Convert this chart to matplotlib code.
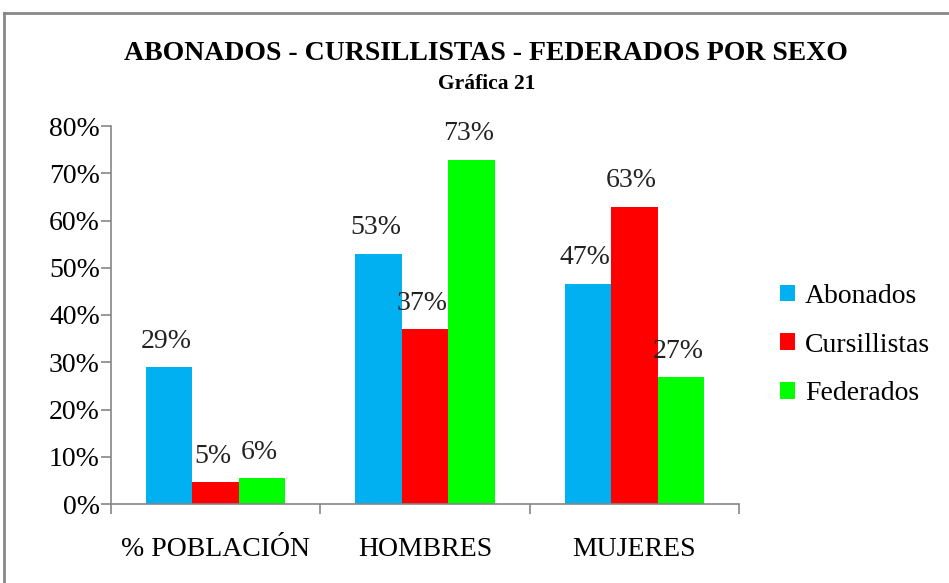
import numpy as np
import matplotlib.pyplot as plt
from matplotlib.lines import Line2D

# Data (percent)
categories = ['% POBLACIÓN', 'HOMBRES', 'MUJERES']
series_names = ['Abonados', 'Cursillistas', 'Federados']
abonados = [29.0, 53.0, 46.6]
cursillistas = [4.6, 37.0, 62.9]
federados = [5.5, 72.9, 26.8]
y_ticks = [0, 10, 20, 30, 40, 50, 60, 70, 80]

colors = ['#00B0F0', '#FF0000', '#00FF00']
font = 'Liberation Serif'

plt.rcParams['font.family'] = [font, 'DejaVu Serif']

fig = plt.figure(figsize=(9.49, 5.83), dpi=100)
ax = fig.add_axes([111 / 949, 1 - 504 / 583, 628 / 949, 378 / 583])

x = np.arange(len(categories))
width = 1 / 4.5
all_series = [abonados, cursillistas, federados]
for i, (vals, name, col) in enumerate(zip(all_series, series_names, colors)):
    pos = x + (i - 1) * width
    heights = np.array(vals) / 100
    ax.bar(pos, heights, width, color=col, label=name, linewidth=0)
    for px, v in zip(pos, vals):
        ax.annotate(f'{round(v)}%', (px, v / 100), xytext=(-2, 14),
                    textcoords='offset points', ha='center', va='baseline',
                    fontsize=20, color='#222222')

ax.set_xlim(-0.5, 2.5)
ax.set_ylim(0, 0.8)
ax.set_yticks([t / 100 for t in y_ticks])
ax.set_yticklabels([f'{t}%' for t in y_ticks], fontsize=20)
ax.set_xticks([-0.5, 0.5, 1.5, 2.5])
ax.set_xticklabels([])
ax.set_xticks(x, minor=True)
ax.set_xticklabels(categories, minor=True, fontsize=20)
ax.tick_params(axis='x', which='minor', length=0, pad=24)
ax.tick_params(axis='both', which='major', length=7, width=1.2, color='#868686', direction='out')
ax.tick_params(axis='y', pad=1)

for s in ['top', 'right']:
    ax.spines[s].set_visible(False)
for s in ['left', 'bottom']:
    ax.spines[s].set_color('#868686')
    ax.spines[s].set_linewidth(1.2)

leg = fig.legend(loc='center left', bbox_to_anchor=(780 / 949, 1 - 345 / 583),
                 frameon=False, fontsize=20, handlelength=0.55, handleheight=0.55,
                 handletextpad=0.35, labelspacing=0.85, borderpad=0, borderaxespad=0)

fig.text(486 / 949, 1 - 60 / 583, 'ABONADOS - CURSILLISTAS - FEDERADOS POR SEXO',
         ha='center', va='baseline', fontsize=20, fontweight='bold')
fig.text(487 / 949, 1 - 89 / 583, 'Gráfica 21', ha='center', va='baseline',
         fontsize=15.5, fontweight='bold')

# outer chart frame
fig.add_artist(Line2D([4 / 949, 1], [1 - 13 / 583, 1 - 13 / 583], transform=fig.transFigure,
                      color='#888888', linewidth=2))
fig.add_artist(Line2D([4 / 949, 4 / 949], [0, 1 - 13 / 583], transform=fig.transFigure,
                      color='#888888', linewidth=2))

fig.savefig('out.png', dpi=100)
